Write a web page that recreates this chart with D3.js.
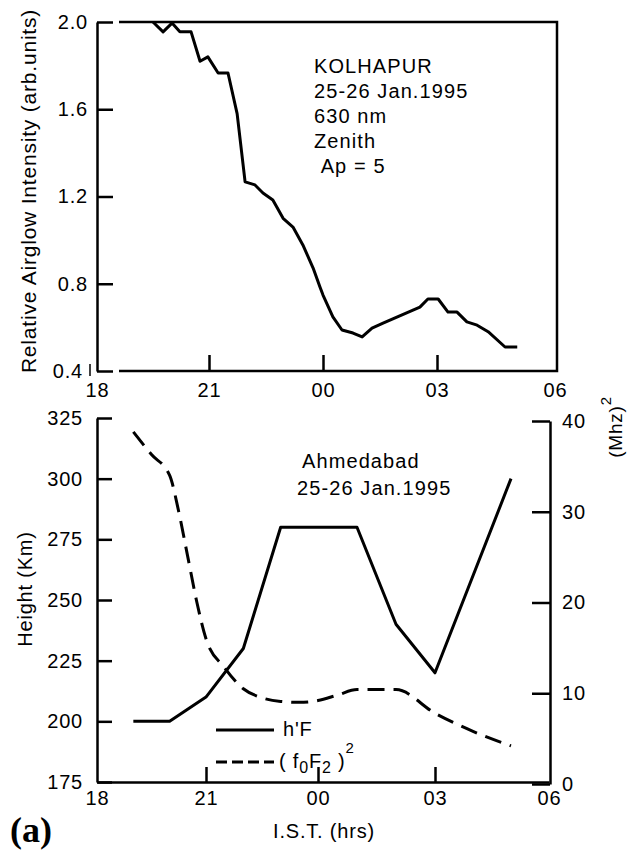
<!DOCTYPE html>
<html>
<head>
<meta charset="utf-8">
<script src="https://cdnjs.cloudflare.com/ajax/libs/d3/7.8.5/d3.min.js"></script>
<style>
body { margin: 0; background: #fff; }
svg { display: block; }
text { font-family: "Liberation Sans", Arial, sans-serif; fill: #000; font-size: 20px; letter-spacing: 0.8px; }
.axis path, .axis line { stroke: #000; stroke-width: 2.5; }
.axis text { font-family: "Liberation Sans", Arial, sans-serif; font-size: 20px; }
.line { fill: none; stroke: #000; stroke-width: 3; stroke-linejoin: round; }
</style>
</head>
<body>
<script>
"use strict";

// I.S.T. in hours, 18 -> 30 (06 next morning)
var timeTicks = [18, 21, 24, 27, 30];
var timeLabels = ["18", "21", "00", "03", "06"];

// Kolhapur, 630 nm zenith airglow
var glowHours = [19.5, 19.77, 20.01, 20.22, 20.52, 20.76, 20.97, 21.24, 21.5, 21.74, 21.95, 22.21, 22.42, 22.68,
                 22.95, 23.21, 23.47, 23.74, 23.92, 24.0, 24.26, 24.5, 24.79, 25.03, 25.29, 25.58, 26.55, 26.76,
                 27.03, 27.28, 27.51, 27.76, 28.02, 28.3, 28.73, 29.04];
var glowIntensity = [2.0, 1.955, 1.995, 1.955, 1.955, 1.82, 1.84, 1.766, 1.766, 1.58, 1.267, 1.253, 1.216, 1.184,
                     1.10, 1.06, 0.978, 0.872, 0.785, 0.748, 0.648, 0.588, 0.574, 0.556, 0.597, 0.62, 0.693, 0.73,
                     0.73, 0.67, 0.67, 0.625, 0.61, 0.58, 0.51, 0.51];
var glowTicks = [0.4, 0.8, 1.2, 1.6, 2.0];
var glowNotes = ["KOLHAPUR", "25-26 Jan.1995", "630 nm", "Zenith", "\u00a0Ap = 5"];

// Ahmedabad ionosonde: h'F and (foF2)^2
var hfHours = [19, 20, 21, 22, 23, 25, 26, 27, 29];
var hfHeight = [200, 200, 210, 230, 280, 280, 240, 220, 300];
var foHours = [19, 19.5, 20, 20.25, 20.5, 20.75, 21, 21.5, 22, 22.5, 23, 23.5, 24, 24.5, 25, 26, 27, 28, 29];
var foSquared = [38.8, 36.3, 34, 30, 25, 20, 16, 12.8, 10.5, 9.5, 9.1, 9.0, 9.2, 9.8, 10.4, 10.4, 7.8, 5.8, 4.2];
var heightTicks = [175, 200, 225, 250, 275, 300, 325];
var freqTicks = [0, 10, 20, 30, 40];
var ahmNotes = ["Ahmedabad", "25-26 Jan.1995"];

var svg = d3.select("body").append("svg")
    .attr("width", 627)
    .attr("height", 854);

// ---------- top panel ----------
var xTop = d3.scaleLinear().domain(timeTicks).range([97, 209, 323, 437, 555]);
var yGlow = d3.scaleLinear().domain([0.4, 2.0]).range([371, 22]);

// frame (top / right / bottom)
svg.append("path")
    .attr("d", "M119," + yGlow(0.4) + "H557V" + yGlow(2.0) + "H119")
    .attr("fill", "none").attr("stroke", "#000").attr("stroke-width", 2.5);

var gyTop = svg.append("g").attr("class", "axis")
    .attr("transform", "translate(97,0)")
    .call(d3.axisLeft(yGlow).tickValues(glowTicks).tickFormat(d3.format(".1f"))
        .tickSize(-16).tickSizeOuter(0).tickPadding(9));
// the 0.4 label sits a little further left, beside a stray mark
gyTop.selectAll(".tick text").filter(function(d) { return d === 0.4; }).attr("dx", -5);
svg.append("line").attr("x1", 90).attr("x2", 90)
    .attr("y1", yGlow(0.4) - 7).attr("y2", yGlow(0.4) + 5)
    .attr("stroke", "#000").attr("stroke-width", 1.5);

var gxTop = svg.append("g").attr("class", "axis")
    .attr("transform", "translate(0," + yGlow(0.4) + ")")
    .call(d3.axisBottom(xTop).tickValues(timeTicks).tickFormat(function(d, i) { return timeLabels[i]; })
        .tickSize(-16).tickPadding(12));
gxTop.select(".domain").remove();
gxTop.selectAll(".tick line").filter(function(d) { return d === 18 || d === 30; }).remove();

var glowLine = d3.line()
    .x(function(d, i) { return xTop(glowHours[i]); })
    .y(function(d) { return yGlow(d); });
svg.append("path").datum(glowIntensity).attr("class", "line").attr("d", glowLine);

svg.append("g").selectAll("text").data(glowNotes).enter().append("text")
    .attr("x", 314)
    .attr("y", function(d, i) { return 73 + i * 25.1; })
    .style("letter-spacing", "1.1px")
    .text(function(d) { return d; });

svg.append("text")
    .attr("transform", "translate(36,191) rotate(-90)")
    .attr("text-anchor", "middle")
    .style("font-size", "21px")
    .text("Relative Airglow Intensity (arb.units)");

// ---------- bottom panel ----------
var xBot = d3.scaleLinear().domain(timeTicks).range([97, 206, 318, 435, 549]);
var yH = d3.scaleLinear().domain([175, 325]).range([782, 418]);
var yF = d3.scaleLinear().domain([0, 40]).range([784, 421]);

var gxBot = svg.append("g").attr("class", "axis")
    .attr("transform", "translate(0,782)")
    .call(d3.axisBottom(xBot).tickValues(timeTicks).tickFormat(function(d, i) { return timeLabels[i]; })
        .tickSize(-15).tickSizeOuter(0).tickPadding(9));
gxBot.selectAll(".tick line").filter(function(d) { return d === 18 || d === 30; }).remove();

svg.append("g").attr("class", "axis")
    .attr("transform", "translate(97,0)")
    .call(d3.axisLeft(yH).tickValues(heightTicks).tickSize(-15).tickSizeOuter(0).tickPadding(14));

svg.append("g").attr("class", "axis")
    .attr("transform", "translate(550,0)")
    .call(d3.axisRight(yF).tickValues(freqTicks).tickSize(-18).tickSizeOuter(0).tickPadding(12));

var hfLine = d3.line()
    .x(function(d, i) { return xBot(hfHours[i]); })
    .y(function(d) { return yH(d); });
svg.append("path").datum(hfHeight).attr("class", "line").attr("d", hfLine);

var foLine = d3.line()
    .curve(d3.curveMonotoneX)
    .x(function(d, i) { return xBot(foHours[i]); })
    .y(function(d) { return yF(d); });
svg.append("path").datum(foSquared).attr("class", "line")
    .attr("stroke-dasharray", "17,9")
    .attr("d", foLine);

svg.append("g").selectAll("text").data(ahmNotes).enter().append("text")
    .attr("x", function(d, i) { return i === 0 ? 302 : 297; })
    .attr("y", function(d, i) { return 468 + i * 27; })
    .style("letter-spacing", "1.1px")
    .text(function(d) { return d; });

// legend
svg.append("line").attr("x1", 216).attr("x2", 274).attr("y1", 730).attr("y2", 730)
    .attr("stroke", "#000").attr("stroke-width", 3);
svg.append("text").attr("x", 283).attr("y", 736).text("h'F");
svg.append("line").attr("x1", 216).attr("x2", 274).attr("y1", 762).attr("y2", 762)
    .attr("stroke", "#000").attr("stroke-width", 3).attr("stroke-dasharray", "11,5");
var lg = svg.append("text").attr("x", 279).attr("y", 768);
lg.append("tspan").text("( f");
lg.append("tspan").attr("dy", 5).style("font-size", "16px").text("0");
lg.append("tspan").attr("dy", -5).text("F");
lg.append("tspan").attr("dy", 5).style("font-size", "16px").text("2");
lg.append("tspan").attr("dy", -5).text(" )");
lg.append("tspan").attr("dy", -15).style("font-size", "15px").text("2");

// axis titles
svg.append("text")
    .attr("transform", "translate(32,589) rotate(-90)")
    .attr("text-anchor", "middle")
    .text("Height (Km)");

var mt = svg.append("text")
    .attr("transform", "translate(622,427) rotate(-90)")
    .attr("text-anchor", "middle")
    .style("font-size", "19px");
mt.append("tspan").text("(Mhz)");
mt.append("tspan").attr("dy", -11).style("font-size", "15px").text("2");

svg.append("text")
    .attr("x", 324).attr("y", 838)
    .attr("text-anchor", "middle")
    .text("I.S.T. (hrs)");

svg.append("text")
    .attr("x", 10).attr("y", 842)
    .style("font-family", "'Liberation Serif', 'Times New Roman', serif")
    .style("font-weight", "bold")
    .style("font-size", "36px")
    .style("letter-spacing", "0px")
    .text("(a)");
</script>
</body>
</html>
